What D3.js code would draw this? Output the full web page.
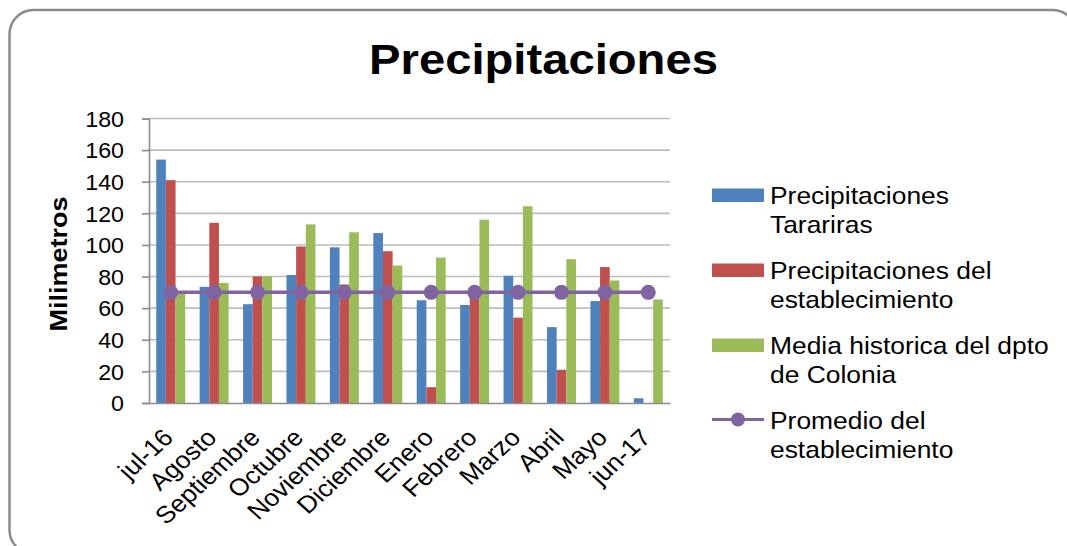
<!DOCTYPE html>
<html>
<head>
<meta charset="utf-8">
<script src="https://cdn.jsdelivr.net/npm/d3@7"></script>
<style>
  html, body { margin: 0; padding: 0; background: #fff; overflow: hidden; }
  svg { display: block; }
  text { font-family: "Liberation Sans", Arial, Helvetica, sans-serif; fill: #000; }
</style>
</head>
<body>
<svg id="chart" width="1067" height="546"></svg>
<script>
// Monthly rainfall, July 2016 to June 2017 (mm)
const categories = ["jul-16", "Agosto", "Septiembre", "Octubre", "Noviembre", "Diciembre",
                    "Enero", "Febrero", "Marzo", "Abril", "Mayo", "jun-17"];
const tarariras       = [154, 73.5, 62.5, 81, 98.5, 107.5, 65, 62, 80.5, 48, 64.5, 3];
const establecimiento = [141, 114, 80, 99, 75, 96, 10, 67, 54, 21, 86, 0];
const mediaHistorica  = [69, 76, 80, 113, 108, 87, 92, 116, 124.5, 91, 77.5, 65.5];
const promedio        = [70, 70, 70, 70, 70, 70, 70, 70, 70, 70, 70, 70];
const yTicks = [0, 20, 40, 60, 80, 100, 120, 140, 160, 180];

const barSeries = [
  { name: ["Precipitaciones", "Tarariras"], values: tarariras, color: "#4F81BD" },
  { name: ["Precipitaciones del", "establecimiento"], values: establecimiento, color: "#C0504D" },
  { name: ["Media historica del dpto", "de Colonia"], values: mediaHistorica, color: "#9BBB59" }
];
const lineSeries = { name: ["Promedio del", "establecimiento"], values: promedio, color: "#8064A2" };

const svg = d3.select("#chart");
const plot = { left: 149, right: 670, top: 118.5, bottom: 403 };

// Outer frame with rounded corners
svg.append("rect")
  .attr("x", 9.5).attr("y", 10)
  .attr("width", 1067).attr("height", 544)
  .attr("rx", 24).attr("ry", 24)
  .attr("fill", "#fff").attr("stroke", "#8a8a8a").attr("stroke-width", 2.5);

// Title
svg.append("text")
  .attr("transform", "translate(543.5,74) scale(1.098,1)")
  .attr("text-anchor", "middle")
  .style("font-size", "43px").style("font-weight", "bold")
  .text("Precipitaciones");

const x0 = d3.scaleBand().domain(categories).range([plot.left, plot.right]).padding(0);
const bw = x0.bandwidth();
const x1 = d3.scaleBand().domain(d3.range(barSeries.length)).range([bw / 6, bw * 5 / 6]).padding(0);
const y = d3.scaleLinear().domain([0, 180]).range([plot.bottom, plot.top]);

// Horizontal gridlines
svg.append("g")
  .selectAll("line")
  .data(yTicks.filter(d => d > 0))
  .join("line")
  .attr("x1", plot.left).attr("x2", plot.right)
  .attr("y1", d => y(d)).attr("y2", d => y(d))
  .attr("stroke", "#bdbdbd").attr("stroke-width", 1.6);

// Y axis
const yAxis = svg.append("g")
  .attr("transform", `translate(${plot.left},0)`)
  .call(d3.axisLeft(y).tickValues(yTicks).tickSize(7).tickPadding(0).tickFormat(d3.format("d")));
yAxis.select(".domain").attr("stroke", "#8c8c8c").attr("stroke-width", 1.6);
yAxis.selectAll(".tick line").attr("stroke", "#8c8c8c").attr("stroke-width", 1.6);
yAxis.selectAll(".tick text")
  .attr("x", 0).attr("dy", "0.36em")
  .attr("transform", "translate(-25,0) scale(1.08,1)")
  .style("font-size", "21.5px").attr("fill", "#000");

// Y axis title
svg.append("text")
  .attr("transform", "translate(67,264) rotate(-90) scale(1.15,1)")
  .attr("text-anchor", "middle")
  .style("font-size", "23.5px").style("font-weight", "bold")
  .text("Milimetros");

// Bars
const groups = svg.append("g")
  .selectAll("g")
  .data(categories)
  .join("g")
  .attr("transform", d => `translate(${x0(d)},0)`);

groups.selectAll("rect")
  .data((d, i) => barSeries.map((s, k) => ({ k, v: s.values[i], color: s.color })))
  .join("rect")
  .attr("x", d => x1(d.k))
  .attr("width", x1.bandwidth())
  .attr("y", d => y(d.v))
  .attr("height", d => y(0) - y(d.v))
  .attr("fill", d => d.color);

// X axis
const xAxis = svg.append("g")
  .attr("transform", `translate(0,${plot.bottom})`)
  .call(d3.axisBottom(x0).tickSize(0).tickPadding(0));
xAxis.select(".domain").attr("stroke", "#8c8c8c").attr("stroke-width", 1.6);
xAxis.selectAll(".tick text")
  .attr("y", 0).attr("dy", 0)
  .attr("text-anchor", "end")
  .attr("transform", "translate(4,36) scale(1.1,1) rotate(-45)")
  .style("font-size", "24px").attr("fill", "#000");

// Average line with markers
const lineGen = d3.line()
  .x((d, i) => x0(categories[i]) + bw / 2)
  .y(d => y(d));
svg.append("path")
  .datum(lineSeries.values)
  .attr("d", lineGen)
  .attr("fill", "none")
  .attr("stroke", lineSeries.color)
  .attr("stroke-width", 3.5);
svg.append("g")
  .selectAll("circle")
  .data(lineSeries.values)
  .join("circle")
  .attr("cx", (d, i) => x0(categories[i]) + bw / 2)
  .attr("cy", d => y(d))
  .attr("r", 7.5)
  .attr("fill", lineSeries.color);

// Legend
const legend = svg.append("g");
const legendRows = [...barSeries.map(s => ({ ...s, type: "bar" })), { ...lineSeries, type: "line" }];
legendRows.forEach((s, i) => {
  const baseY = 203.5 + i * 75;
  const g = legend.append("g");
  if (s.type === "bar") {
    g.append("rect")
      .attr("x", 712).attr("y", baseY - 15)
      .attr("width", 52).attr("height", 13.5)
      .attr("fill", s.color);
  } else {
    g.append("line")
      .attr("x1", 712).attr("x2", 764)
      .attr("y1", baseY - 9).attr("y2", baseY - 9)
      .attr("stroke", s.color).attr("stroke-width", 3);
    g.append("circle")
      .attr("cx", 738).attr("cy", baseY - 9).attr("r", 7)
      .attr("fill", s.color);
  }
  s.name.forEach((line, j) => {
    g.append("text")
      .attr("transform", `translate(770,${baseY + j * 29.5}) scale(1.1,1)`)
      .style("font-size", "24px")
      .text(line);
  });
});
</script>
</body>
</html>
